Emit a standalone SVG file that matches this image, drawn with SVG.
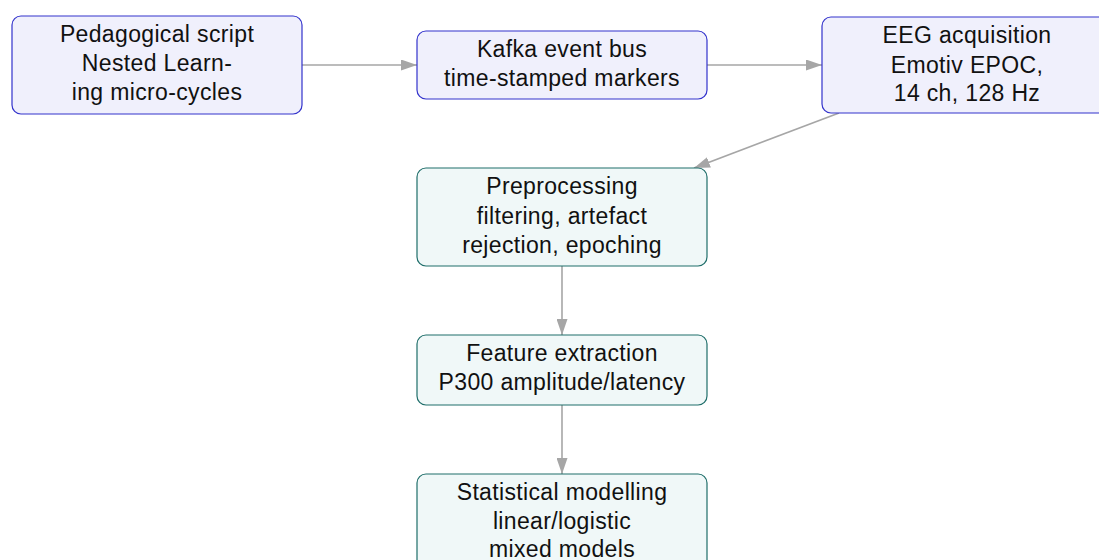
<svg xmlns="http://www.w3.org/2000/svg" width="1099" height="560" viewBox="0 0 1099 560">
  <style>
    .blue rect { fill: #f0f0fc; stroke: #3333cc; stroke-width: 1.2; }
    .teal rect { fill: #f0f8f8; stroke: #1f6e6a; stroke-width: 1.2; }
    text { font-family: "Liberation Sans", Arial, sans-serif; font-size: 23px; letter-spacing: 0.35px; fill: #111; text-anchor: middle; }
    .edge { stroke: #a6a6a6; stroke-width: 1.6; fill: none; marker-end: url(#head); }
  </style>
  <defs>
    <marker id="head" viewBox="0 0 16 11" refX="16" refY="5.5" markerWidth="16" markerHeight="11" markerUnits="userSpaceOnUse" orient="auto">
      <path d="M0,0 L16,5.5 L0,11 Z" fill="#a6a6a6"/>
    </marker>
  </defs>
  <rect width="1099" height="560" fill="#ffffff"/>

  <g id="connectors">
    <line class="edge" x1="302" y1="65" x2="417" y2="65"/>
    <line class="edge" x1="707" y1="65" x2="822" y2="65"/>
    <line class="edge" x1="839" y1="113" x2="694" y2="168"/>
    <line class="edge" x1="562" y1="266" x2="562" y2="335"/>
    <line class="edge" x1="562" y1="405" x2="562" y2="474"/>
  </g>

  <g id="script" class="blue">
    <rect x="12" y="16" width="290" height="98" rx="9"/>
    <text x="157" y="42">Pedagogical script</text>
    <text x="157" y="71">Nested Learn-</text>
    <text x="157" y="100">ing micro-cycles</text>
  </g>

  <g id="kafka" class="blue">
    <rect x="417" y="31" width="290" height="68" rx="9"/>
    <text x="562" y="57">Kafka event bus</text>
    <text x="562" y="86">time-stamped markers</text>
  </g>

  <g id="eeg" class="blue">
    <rect x="822" y="17" width="290" height="96" rx="9"/>
    <text x="967" y="43">EEG acquisition</text>
    <text x="967" y="73">Emotiv EPOC,</text>
    <text x="967" y="101">14 ch, 128 Hz</text>
  </g>

  <g id="preprocessing" class="teal">
    <rect x="417" y="168" width="290" height="98" rx="9"/>
    <text x="562" y="194">Preprocessing</text>
    <text x="562" y="224">filtering, artefact</text>
    <text x="562" y="253">rejection, epoching</text>
  </g>

  <g id="features" class="teal">
    <rect x="417" y="335" width="290" height="70" rx="9"/>
    <text x="562" y="361">Feature extraction</text>
    <text x="562" y="390">P300 amplitude/latency</text>
  </g>

  <g id="modelling" class="teal">
    <rect x="417" y="474" width="290" height="98" rx="9"/>
    <text x="562" y="500">Statistical modelling</text>
    <text x="562" y="529">linear/logistic</text>
    <text x="562" y="557">mixed models</text>
  </g>
</svg>
